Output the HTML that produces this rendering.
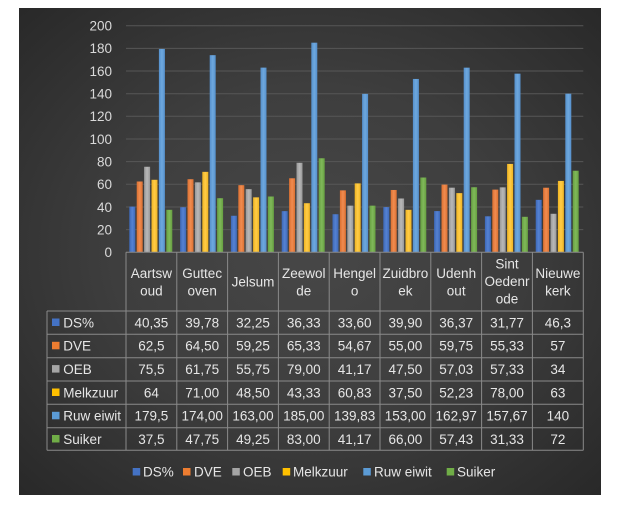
<!DOCTYPE html>
<html><head><meta charset="utf-8"><style>
html,body{margin:0;padding:0;background:#fff;}
svg{display:block;}
text{font-family:"Liberation Sans",sans-serif;}
</style></head><body>
<svg width="625" height="509" viewBox="0 0 625 509" xmlns="http://www.w3.org/2000/svg">
<defs>
<radialGradient id="bg" cx="50%" cy="50%" r="75%">
<stop offset="0" stop-color="#474747"/><stop offset="0.45" stop-color="#3e3e3e"/><stop offset="1" stop-color="#262626"/>
</radialGradient>
<linearGradient id="c1" x1="0" x2="1"><stop offset="0" stop-color="#3d68b8"/><stop offset="0.5" stop-color="#5582d2"/><stop offset="1" stop-color="#3d68b8"/></linearGradient>
<linearGradient id="c2" x1="0" x2="1"><stop offset="0" stop-color="#dc7030"/><stop offset="0.5" stop-color="#f08c50"/><stop offset="1" stop-color="#dc7030"/></linearGradient>
<linearGradient id="c3" x1="0" x2="1"><stop offset="0" stop-color="#989898"/><stop offset="0.5" stop-color="#b8b8b8"/><stop offset="1" stop-color="#989898"/></linearGradient>
<linearGradient id="c4" x1="0" x2="1"><stop offset="0" stop-color="#efb420"/><stop offset="0.5" stop-color="#ffcc48"/><stop offset="1" stop-color="#efb420"/></linearGradient>
<linearGradient id="c5" x1="0" x2="1"><stop offset="0" stop-color="#5590cc"/><stop offset="0.5" stop-color="#6ea8de"/><stop offset="1" stop-color="#5590cc"/></linearGradient>
<linearGradient id="c6" x1="0" x2="1"><stop offset="0" stop-color="#66a040"/><stop offset="0.5" stop-color="#80b85a"/><stop offset="1" stop-color="#66a040"/></linearGradient>
</defs>
<rect x="19" y="8" width="582" height="487" fill="url(#bg)"/>
<!-- gridlines -->
<g stroke="#575757" stroke-width="1">
<line x1="126" x2="583.3" y1="25.7" y2="25.7"/>
<line x1="126" x2="583.3" y1="48.4" y2="48.4"/>
<line x1="126" x2="583.3" y1="71" y2="71"/>
<line x1="126" x2="583.3" y1="93.7" y2="93.7"/>
<line x1="126" x2="583.3" y1="116.3" y2="116.3"/>
<line x1="126" x2="583.3" y1="139" y2="139"/>
<line x1="126" x2="583.3" y1="161.6" y2="161.6"/>
<line x1="126" x2="583.3" y1="184.3" y2="184.3"/>
<line x1="126" x2="583.3" y1="207" y2="207"/>
<line x1="126" x2="583.3" y1="229.6" y2="229.6"/>
</g>
<!-- y labels -->
<g fill="#d9d9d9" font-size="13.5" text-anchor="end">
<text x="112" y="30.5">200</text>
<text x="112" y="53.2">180</text>
<text x="112" y="75.8">160</text>
<text x="112" y="98.5">140</text>
<text x="112" y="121.1">120</text>
<text x="112" y="143.8">100</text>
<text x="112" y="166.4">80</text>
<text x="112" y="189.1">60</text>
<text x="112" y="211.8">40</text>
<text x="112" y="234.4">20</text>
<text x="112" y="257">0</text>
</g>
<!-- bars -->
<g transform="translate(126,0)">
<rect x="3.3" y="206.58" width="6" height="45.72" fill="url(#c1)"/>
<rect x="10.7" y="181.49" width="6" height="70.81" fill="url(#c2)"/>
<rect x="18.1" y="166.76" width="6" height="85.54" fill="url(#c3)"/>
<rect x="25.5" y="179.79" width="6" height="72.51" fill="url(#c4)"/>
<rect x="32.9" y="48.93" width="6" height="203.37" fill="url(#c5)"/>
<rect x="40.3" y="209.81" width="6" height="42.49" fill="url(#c6)"/>
</g>
<g transform="translate(176.8,0)">
<rect x="3.3" y="207.23" width="6" height="45.07" fill="url(#c1)"/>
<rect x="10.7" y="179.22" width="6" height="73.08" fill="url(#c2)"/>
<rect x="18.1" y="182.34" width="6" height="69.96" fill="url(#c3)"/>
<rect x="25.5" y="171.86" width="6" height="80.44" fill="url(#c4)"/>
<rect x="32.9" y="55.16" width="6" height="197.14" fill="url(#c5)"/>
<rect x="40.3" y="198.2" width="6" height="54.1" fill="url(#c6)"/>
</g>
<g transform="translate(227.6,0)">
<rect x="3.3" y="215.76" width="6" height="36.54" fill="url(#c1)"/>
<rect x="10.7" y="185.17" width="6" height="67.13" fill="url(#c2)"/>
<rect x="18.1" y="189.14" width="6" height="63.16" fill="url(#c3)"/>
<rect x="25.5" y="197.35" width="6" height="54.95" fill="url(#c4)"/>
<rect x="32.9" y="67.62" width="6" height="184.68" fill="url(#c5)"/>
<rect x="40.3" y="196.5" width="6" height="55.8" fill="url(#c6)"/>
</g>
<g transform="translate(278.4,0)">
<rect x="3.3" y="211.14" width="6" height="41.16" fill="url(#c1)"/>
<rect x="10.7" y="178.28" width="6" height="74.02" fill="url(#c2)"/>
<rect x="18.1" y="162.79" width="6" height="89.51" fill="url(#c3)"/>
<rect x="25.5" y="203.21" width="6" height="49.09" fill="url(#c4)"/>
<rect x="32.9" y="42.69" width="6" height="209.61" fill="url(#c5)"/>
<rect x="40.3" y="158.26" width="6" height="94.04" fill="url(#c6)"/>
</g>
<g transform="translate(329.2,0)">
<rect x="3.3" y="214.23" width="6" height="38.07" fill="url(#c1)"/>
<rect x="10.7" y="190.36" width="6" height="61.94" fill="url(#c2)"/>
<rect x="18.1" y="205.65" width="6" height="46.65" fill="url(#c3)"/>
<rect x="25.5" y="183.38" width="6" height="68.92" fill="url(#c4)"/>
<rect x="32.9" y="93.87" width="6" height="158.43" fill="url(#c5)"/>
<rect x="40.3" y="205.65" width="6" height="46.65" fill="url(#c6)"/>
</g>
<g transform="translate(380,0)">
<rect x="3.3" y="207.09" width="6" height="45.21" fill="url(#c1)"/>
<rect x="10.7" y="189.98" width="6" height="62.32" fill="url(#c2)"/>
<rect x="18.1" y="198.48" width="6" height="53.82" fill="url(#c3)"/>
<rect x="25.5" y="209.81" width="6" height="42.49" fill="url(#c4)"/>
<rect x="32.9" y="78.95" width="6" height="173.35" fill="url(#c5)"/>
<rect x="40.3" y="177.52" width="6" height="74.78" fill="url(#c6)"/>
</g>
<g transform="translate(430.8,0)">
<rect x="3.3" y="211.09" width="6" height="41.21" fill="url(#c1)"/>
<rect x="10.7" y="184.6" width="6" height="67.7" fill="url(#c2)"/>
<rect x="18.1" y="187.68" width="6" height="64.62" fill="url(#c3)"/>
<rect x="25.5" y="193.12" width="6" height="59.18" fill="url(#c4)"/>
<rect x="32.9" y="67.66" width="6" height="184.64" fill="url(#c5)"/>
<rect x="40.3" y="187.23" width="6" height="65.07" fill="url(#c6)"/>
</g>
<g transform="translate(481.6,0)">
<rect x="3.3" y="216.3" width="6" height="36" fill="url(#c1)"/>
<rect x="10.7" y="189.61" width="6" height="62.69" fill="url(#c2)"/>
<rect x="18.1" y="187.35" width="6" height="64.95" fill="url(#c3)"/>
<rect x="25.5" y="163.93" width="6" height="88.37" fill="url(#c4)"/>
<rect x="32.9" y="73.66" width="6" height="178.64" fill="url(#c5)"/>
<rect x="40.3" y="216.8" width="6" height="35.5" fill="url(#c6)"/>
</g>
<g transform="translate(532.4,0)">
<rect x="3.3" y="199.84" width="6" height="52.46" fill="url(#c1)"/>
<rect x="10.7" y="187.72" width="6" height="64.58" fill="url(#c2)"/>
<rect x="18.1" y="213.78" width="6" height="38.52" fill="url(#c3)"/>
<rect x="25.5" y="180.92" width="6" height="71.38" fill="url(#c4)"/>
<rect x="32.9" y="93.68" width="6" height="158.62" fill="url(#c5)"/>
<rect x="40.3" y="170.72" width="6" height="81.58" fill="url(#c6)"/>
</g>
<!-- table lines -->
<g stroke="#8a8a8a" stroke-width="1">
<line x1="126" x2="583.3" y1="252.3" y2="252.3"/>
<line x1="47" x2="583.3" y1="311" y2="311"/>
<line x1="47" x2="583.3" y1="334.3" y2="334.3"/>
<line x1="47" x2="583.3" y1="357.7" y2="357.7"/>
<line x1="47" x2="583.3" y1="381" y2="381"/>
<line x1="47" x2="583.3" y1="404.3" y2="404.3"/>
<line x1="47" x2="583.3" y1="427.7" y2="427.7"/>
<line x1="47" x2="583.3" y1="450.3" y2="450.3"/>
<line x1="47" x2="47" y1="311" y2="450.3"/>
<line x1="126" x2="126" y1="252.3" y2="450.3"/>
<line x1="176.8" x2="176.8" y1="252.3" y2="450.3"/>
<line x1="227.6" x2="227.6" y1="252.3" y2="450.3"/>
<line x1="278.4" x2="278.4" y1="252.3" y2="450.3"/>
<line x1="329.2" x2="329.2" y1="252.3" y2="450.3"/>
<line x1="380" x2="380" y1="252.3" y2="450.3"/>
<line x1="430.8" x2="430.8" y1="252.3" y2="450.3"/>
<line x1="481.6" x2="481.6" y1="252.3" y2="450.3"/>
<line x1="532.4" x2="532.4" y1="252.3" y2="450.3"/>
<line x1="583.3" x2="583.3" y1="252.3" y2="450.3"/>
</g>
<!-- header labels -->
<g fill="#e6e6e6" font-size="13.5" text-anchor="middle">
<text x="151.4" y="278">Aartsw</text><text x="151.4" y="295.5">oud</text>
<text x="202.2" y="278">Guttec</text><text x="202.2" y="295.5">oven</text>
<text x="253" y="286.5">Jelsum</text>
<text x="303.8" y="278">Zeewol</text><text x="303.8" y="295.5">de</text>
<text x="354.6" y="278">Hengel</text><text x="354.6" y="295.5">o</text>
<text x="405.4" y="278">Zuidbro</text><text x="405.4" y="295.5">ek</text>
<text x="456.2" y="278">Udenh</text><text x="456.2" y="295.5">out</text>
<text x="507" y="268.5">Sint</text><text x="507" y="286">Oedenr</text><text x="507" y="303.5">ode</text>
<text x="557.9" y="278">Nieuwe</text><text x="557.9" y="295.5">kerk</text>
</g>
<!-- row headers -->
<rect x="52" y="318.5" width="7.5" height="7.5" fill="#4472c4"/>
<rect x="52" y="341.8" width="7.5" height="7.5" fill="#ed7d31"/>
<rect x="52" y="365.1" width="7.5" height="7.5" fill="#a5a5a5"/>
<rect x="52" y="388.5" width="7.5" height="7.5" fill="#ffc000"/>
<rect x="52" y="411.8" width="7.5" height="7.5" fill="#5b9bd5"/>
<rect x="52" y="435" width="7.5" height="7.5" fill="#70ad47"/>
<g fill="#e6e6e6" font-size="13.5">
<text x="63.3" y="327.4">DS%</text>
<text x="63.3" y="350.7">DVE</text>
<text x="63.3" y="374">OEB</text>
<text x="63.3" y="397.4">Melkzuur</text>
<text x="63.3" y="420.7">Ruw eiwit</text>
<text x="63.3" y="443.8">Suiker</text>
</g>
<!-- values -->
<g fill="#e6e6e6" font-size="13.5" text-anchor="middle">
<g transform="translate(0,327.4)">
<text x="151.4">40,35</text><text x="202.2">39,78</text><text x="253">32,25</text><text x="303.8">36,33</text><text x="354.6">33,60</text><text x="405.4">39,90</text><text x="456.2">36,37</text><text x="507">31,77</text><text x="557.9">46,3</text>
</g>
<g transform="translate(0,350.7)">
<text x="151.4">62,5</text><text x="202.2">64,50</text><text x="253">59,25</text><text x="303.8">65,33</text><text x="354.6">54,67</text><text x="405.4">55,00</text><text x="456.2">59,75</text><text x="507">55,33</text><text x="557.9">57</text>
</g>
<g transform="translate(0,374)">
<text x="151.4">75,5</text><text x="202.2">61,75</text><text x="253">55,75</text><text x="303.8">79,00</text><text x="354.6">41,17</text><text x="405.4">47,50</text><text x="456.2">57,03</text><text x="507">57,33</text><text x="557.9">34</text>
</g>
<g transform="translate(0,397.4)">
<text x="151.4">64</text><text x="202.2">71,00</text><text x="253">48,50</text><text x="303.8">43,33</text><text x="354.6">60,83</text><text x="405.4">37,50</text><text x="456.2">52,23</text><text x="507">78,00</text><text x="557.9">63</text>
</g>
<g transform="translate(0,420.7)">
<text x="151.4">179,5</text><text x="202.2">174,00</text><text x="253">163,00</text><text x="303.8">185,00</text><text x="354.6">139,83</text><text x="405.4">153,00</text><text x="456.2">162,97</text><text x="507">157,67</text><text x="557.9">140</text>
</g>
<g transform="translate(0,443.8)">
<text x="151.4">37,5</text><text x="202.2">47,75</text><text x="253">49,25</text><text x="303.8">83,00</text><text x="354.6">41,17</text><text x="405.4">66,00</text><text x="456.2">57,43</text><text x="507">31,33</text><text x="557.9">72</text>
</g>
</g>
<!-- legend -->
<rect x="132.7" y="468" width="7.5" height="7.5" fill="#4472c4"/>
<rect x="183" y="468" width="7.5" height="7.5" fill="#ed7d31"/>
<rect x="232.3" y="468" width="7.5" height="7.5" fill="#a5a5a5"/>
<rect x="282.7" y="468" width="7.5" height="7.5" fill="#ffc000"/>
<rect x="363.3" y="468" width="7.5" height="7.5" fill="#5b9bd5"/>
<rect x="446.7" y="468" width="7.5" height="7.5" fill="#70ad47"/>
<g fill="#e6e6e6" font-size="13.5">
<text x="143" y="476.5">DS%</text>
<text x="194" y="476.5">DVE</text>
<text x="243" y="476.5">OEB</text>
<text x="293" y="476.5">Melkzuur</text>
<text x="374" y="476.5">Ruw eiwit</text>
<text x="457" y="476.5">Suiker</text>
</g>
</svg>
</body></html>
